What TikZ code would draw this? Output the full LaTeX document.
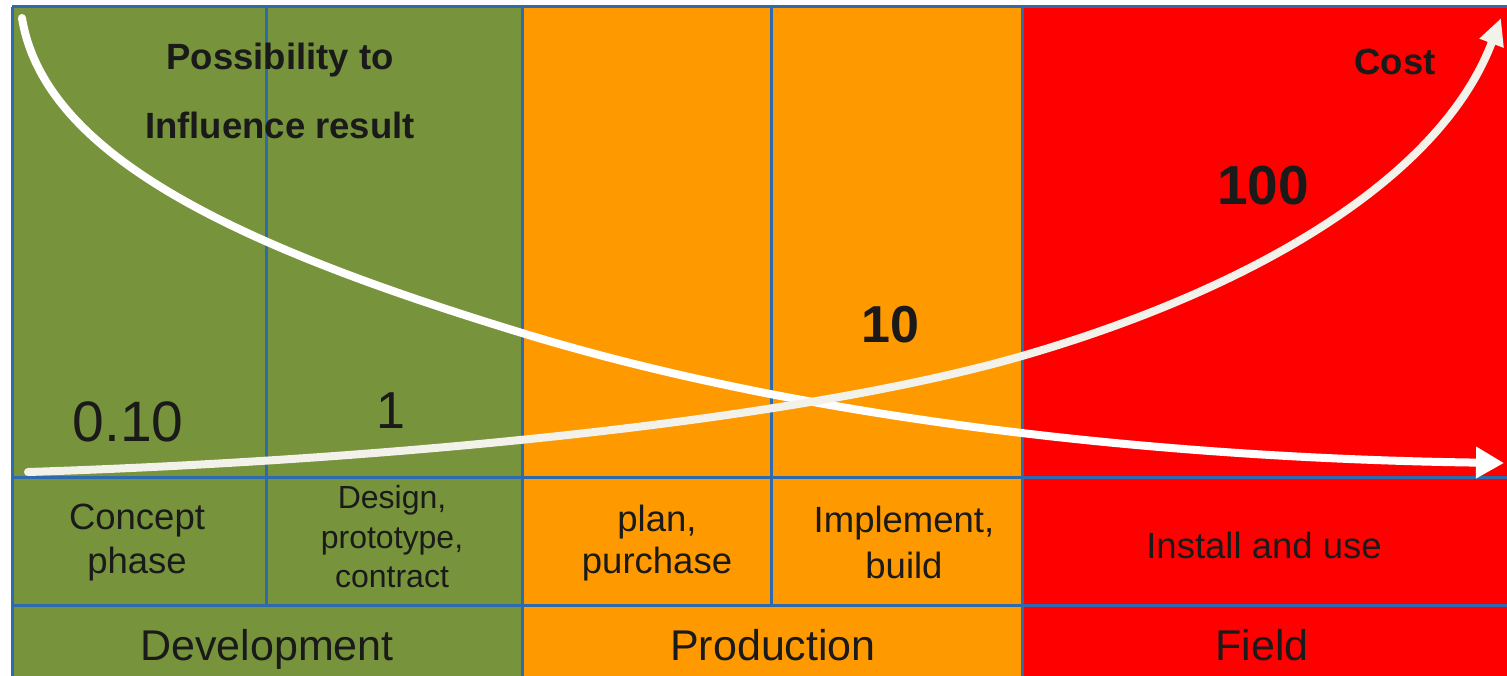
\documentclass[tikz,border=0pt]{standalone}
\usepackage{fontspec}
\setmainfont{Liberation Sans}
\usetikzlibrary{arrows.meta}
\definecolor{dgreen}{HTML}{77933C}
\definecolor{dorange}{HTML}{FF9900}
\definecolor{dred}{HTML}{FF0000}
\definecolor{gridblue}{HTML}{2E6AAE}
\definecolor{txt}{HTML}{1A1A1A}
\definecolor{offwhite}{HTML}{F2F2EA}
\tikzset{
  lbl/.style={anchor=base, inner sep=0pt, text=txt},
  cellfont/.style={font=\fontsize{36.5}{44}\selectfont},
  rowfont/.style={font=\fontsize{43}{48}\selectfont},
  headfont/.style={font=\bfseries\fontsize{36.5}{40}\selectfont},
  gridline/.style={draw=gridblue, line width=3pt},
  curve/.style={line width=8pt, line cap=round},
}
\begin{document}
\begin{tikzpicture}[x=1pt,y=-1pt]
\useasboundingbox (0,0) rectangle (1507,676);
\fill[white] (0,0) rectangle (1507,676);
% coloured zones
\fill[dgreen] (12,7) rectangle (522,676);
\fill[dorange] (522,7) rectangle (1022,676);
\fill[dred] (1022,7) rectangle (1507,676);
% grid
\draw[gridline] (12,7) -- (1507,7);
\draw[gridline] (12,7) -- (12,676);
\draw[gridline] (12,477) -- (1507,477);
\draw[gridline] (12,605) -- (1507,605);
\draw[gridline] (522,7) -- (522,676);
\draw[gridline] (1022,7) -- (1022,676);
\draw[gridline] (266,7) -- (266,605);
\draw[gridline] (771,7) -- (771,605);
% curves
\coordinate (d0) at (22,18);
\coordinate (dm) at (522,333);
\coordinate (d1) at (1504,463);
\draw[curve, white, -{Triangle[length=28pt,width=30pt]}]
  (d0) .. controls (45,160) and (250,250) .. (dm)
       .. controls (800,418) and (1150,458) .. (d1);
\coordinate (u0) at (28,472);
\coordinate (um) at (1022,356);
\coordinate (u1) at (1501,18);
\draw[curve, offwhite, -{Triangle[length=27pt,width=24pt]}]
  (u0) .. controls (400,460) and (800,420) .. (um)
       .. controls (1250,290) and (1440,180) .. (u1);
% header texts
\node[lbl, headfont] (poss) at (280,70) {Possibility to};
\node[lbl, headfont] (infl) at (280,139) {Influence result};
\node[lbl, headfont] (cost) at (1395,75) {Cost};
% numbers
\node[lbl, font=\bfseries\fontsize{55}{60}\selectfont] (n100) at (1263,205) {100};
\node[lbl, font=\bfseries\fontsize{52}{60}\selectfont] (n10) at (890,342) {10};
\node[lbl, font=\fontsize{57}{60}\selectfont] (n010) at (128,441) {0.10};
\node[lbl, font=\fontsize{52}{60}\selectfont] (n1) at (391,428) {1};
% row 2
\node[lbl, cellfont] (c1a) at (137,529) {Concept};
\node[lbl, cellfont] (c1b) at (137,573) {phase};
\node[lbl, font=\fontsize{32}{40}\selectfont] (c2a) at (392,508) {Design,};
\node[lbl, font=\fontsize{32}{40}\selectfont] (c2b) at (392,548) {prototype,};
\node[lbl, font=\fontsize{32}{40}\selectfont] (c2c) at (392,587) {contract};
\node[lbl, cellfont] (c3a) at (657,531) {plan,};
\node[lbl, cellfont] (c3b) at (657,573) {purchase};
\node[lbl, cellfont] (c4a) at (904,532) {Implement,};
\node[lbl, cellfont] (c4b) at (904,578) {build};
\node[lbl, cellfont] (c5) at (1264,558) {Install and use};
% row 3
\node[lbl, rowfont] (dev) at (267,660) {Development};
\node[lbl, rowfont] (prod) at (773,660) {Production};
\node[lbl, rowfont] (field) at (1262,660) {Field};
\end{tikzpicture}
\end{document}
